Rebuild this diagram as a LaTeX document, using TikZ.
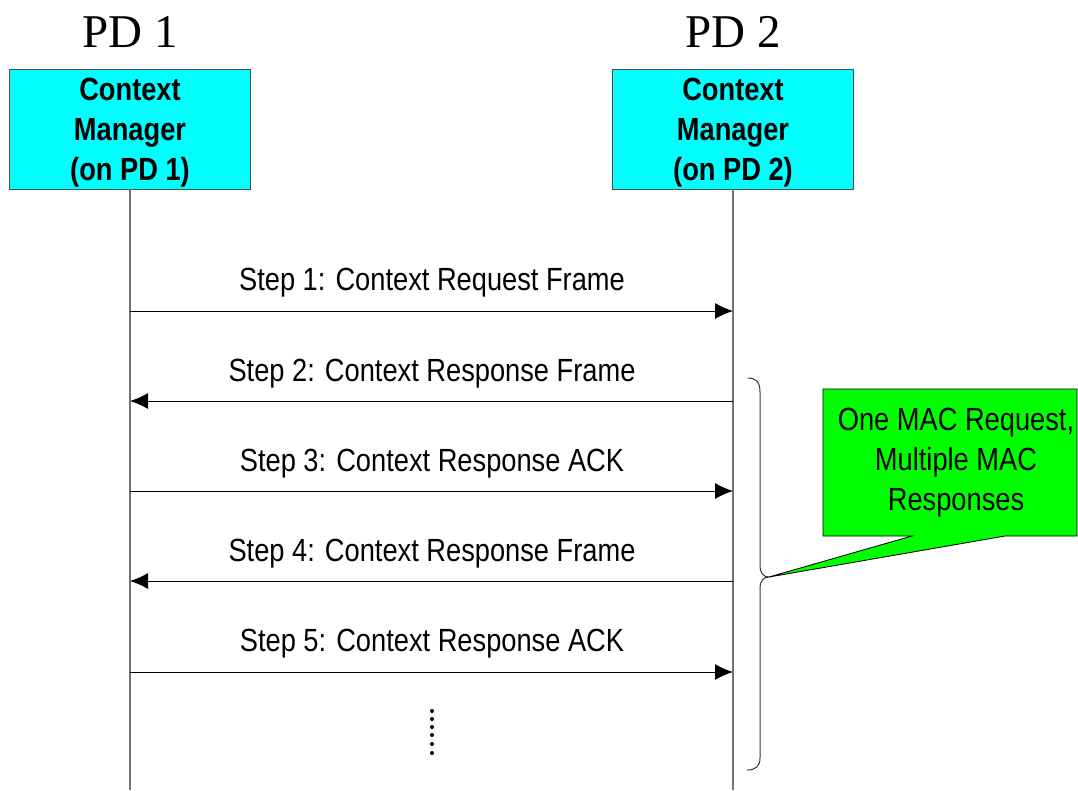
\documentclass[tikz,border=0pt]{standalone}
\usepackage{fontspec}
\setmainfont[FakeStretch=0.85]{Liberation Sans}
\newfontfamily\pdfont{Liberation Serif}
\usetikzlibrary{arrows.meta}
\definecolor{notegreen}{RGB}{0,255,0}
\definecolor{boxcyan}{RGB}{0,255,255}

\begin{document}
\begin{tikzpicture}[x=0.025cm,y=-0.025cm,
  cmbox/.style={draw=black!70,fill=boxcyan,minimum width=6.025cm,minimum height=3cm,
    text depth=0pt,align=center,font=\bfseries\fontsize{22.8}{28.5}\selectfont},
  pdlabel/.style={font=\pdfont\fontsize{33.4}{40}\selectfont},
  msg/.style={-{Latex[length=4.5mm,width=4mm]},line width=0.7pt},
  msglabel/.style={anchor=base,font=\fontsize{22.8}{28.5}\selectfont},
  life/.style={draw=black!55,line width=1pt}]
\useasboundingbox (0,0) rectangle (1078,790);

\node[pdlabel] (pd1) at (130,32) {PD 1};
\node[pdlabel] (pd2) at (733,32) {PD 2};
\node[cmbox] (cm1) at (130,129) {Context\\Manager\\(on PD 1)};
\node[cmbox] (cm2) at (733,129) {Context\\Manager\\(on PD 2)};

% lifelines
\coordinate (end1) at (130,790);
\coordinate (end2) at (733,790);
\draw[life] (cm1.south) -- (end1);
\draw[life] (cm2.south) -- (end2);

% messages
\coordinate (a1) at (130,311); \coordinate (b1) at (733,311);
\coordinate (a2) at (130,401); \coordinate (b2) at (733,401);
\coordinate (a3) at (130,491); \coordinate (b3) at (733,491);
\coordinate (a4) at (130,581); \coordinate (b4) at (733,581);
\coordinate (a5) at (130,672); \coordinate (b5) at (733,672);
\draw[msg] (a1) -- (b1);
\draw[msg] (b2) -- (a2);
\draw[msg] (a3) -- (b3);
\draw[msg] (b4) -- (a4);
\draw[msg] (a5) -- (b5);
\node[msglabel] (s1) at (432,290) {Step 1: Context Request Frame};
\node[msglabel] (s2) at (432,381) {Step 2: Context Response Frame};
\node[msglabel] (s3) at (432,471) {Step 3: Context Response ACK};
\node[msglabel] (s4) at (432,561) {Step 4: Context Response Frame};
\node[msglabel] (s5) at (432,651) {Step 5: Context Response ACK};

\foreach \y in {711,719,727,735,744,753}
  \fill (432,\y) circle (2);

% brace
\draw[line width=0.7pt,black!80] (748,378) .. controls (756,378) and (760,382) .. (760,392)
  -- (760,565) .. controls (760,573) and (763,577) .. (769,577)
  .. controls (763,577) and (760,581) .. (760,589)
  -- (760,758) .. controls (760,766) and (756,770) .. (747,770);

% callout
\draw[fill=notegreen,line width=0.6pt] (823,389) -- (1077,389) -- (1077,536) -- (1005,536)
  -- (769,577) -- (912,536) -- (823,536) -- cycle;
\node[align=center,font=\fontsize{22.8}{28.5}\selectfont] (note) at (956,463)
  {One MAC Request,\\Multiple MAC\\Responses};
\end{tikzpicture}
\end{document}
